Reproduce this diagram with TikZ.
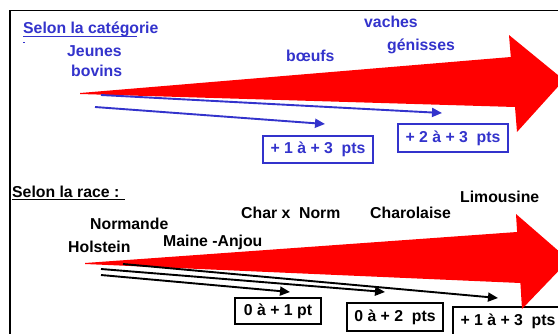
\documentclass[tikz,border=0pt]{standalone}
\usepackage{fontspec}
\setmainfont{Liberation Sans}
\usetikzlibrary{arrows.meta}
\definecolor{catblue}{RGB}{51,51,204}
\definecolor{arrowred}{RGB}{255,0,0}
\begin{document}
\begin{tikzpicture}[x=1pt,y=-1pt,
  txt/.style={font=\bfseries\fontsize{15.8}{19}\selectfont, inner sep=0pt, anchor=base west},
  ptsbox/.style={draw, line width=1.2pt, fill=white, inner sep=0pt,
    font=\bfseries\fontsize{15.8}{19}\selectfont},
  bluebox/.style={ptsbox, draw=catblue, text=catblue},
  bigarrow/.style={fill=arrowred, draw=none},
  gain/.style={line width=1.9pt, -{Triangle[length=10pt,width=9pt]}},
  uline/.style={line width=1.5pt},
]
\clip (0,0) rectangle (558,333);
\fill[white] (0,0) rectangle (558,333);

% outer frame
\draw[line width=1.6pt] (600,10.5) -- (10,10.5) -- (10,400);

% ---------- by category ----------
\node[txt, text=catblue] (cat) at (23,33) {Selon la catégorie};
\draw[uline, catblue] (23,36.5) -- (137,36.5);
\fill[catblue] (23.3,41.6) rectangle (25,42.8);

\node[txt, text=catblue] (jeunes) at (67,56) {Jeunes};
\node[txt, text=catblue] (bovins) at (71,76) {bovins};
\node[txt, text=catblue] (boeufs) at (286,61) {bœufs};
\node[txt, text=catblue] (vaches) at (364,27) {vaches};
\node[txt, text=catblue] (genisses) at (387,50) {génisses};

\node[bluebox, minimum width=110pt, minimum height=27pt] (c13) at (318,149.5) {+ 1 à + 3\ \ pts};
\node[bluebox, minimum width=110pt, minimum height=28pt] (c23) at (453,138) {+ 2 à + 3\ \ pts};

\fill[bigarrow] (80,93) -- (510.8,57) -- (509,35) -- (564,80) -- (517,132) -- (515,107) -- (80,94) -- cycle;

\coordinate (ca1) at (101,95);
\coordinate (ca2) at (442,113);
\coordinate (cb1) at (95,107);
\coordinate (cb2) at (325,124);
\draw[gain, catblue] (ca1) -- (ca2);
\draw[gain, catblue] (cb1) -- (cb2);

% ---------- by breed ----------
\node[txt] (race) at (12,197) {Selon la race :};
\draw[uline] (12,199.5) -- (125,199.5);

\node[txt] (normande) at (90,229) {Normande};
\node[txt] (holstein) at (68,252) {Holstein};
\node[txt] (maine) at (163,246) {Maine -Anjou};
\node[txt] (charnorm) at (241,218) {Char x\ \ Norm};
\node[txt] (charolaise) at (370,218) {Charolaise};
\node[txt] (limousine) at (460,202) {Limousine};

\node[ptsbox, minimum width=86pt, minimum height=26pt] (r01) at (278,311) {0 à + 1 pt};
\node[ptsbox, minimum width=96pt, minimum height=28pt] (r02) at (395,317) {0 à + 2\ \ pts};
\node[ptsbox, minimum width=110pt, minimum height=29pt] (r13) at (508,321.5) {+ 1 à + 3\ \ pts};

\fill[bigarrow] (85,263) -- (517.1,232) -- (516,214) -- (569,260) -- (522,309) -- (520.4,283) -- (85,264) -- cycle;

\coordinate (ra1) at (123,264);
\coordinate (ra2) at (498,298);
\coordinate (rb1) at (101,269);
\coordinate (rb2) at (385,292);
\coordinate (rc1) at (101,275);
\coordinate (rc2) at (290,292);
\draw[gain] (ra1) -- (ra2);
\draw[gain] (rb1) -- (rb2);
\draw[gain] (rc1) -- (rc2);
\end{tikzpicture}
\end{document}
